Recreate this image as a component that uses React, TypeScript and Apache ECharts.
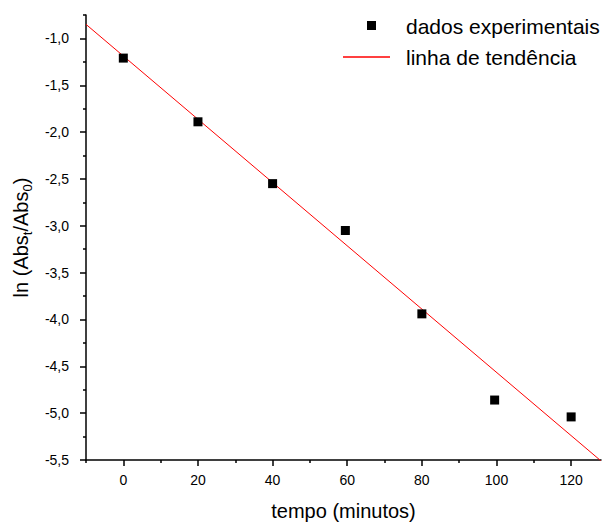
import React, { useEffect, useRef } from "react";
import * as echarts from "echarts";

const timeMinutes = [0, 20, 40, 59.5, 80, 99.5, 120];
const lnAbs = [-1.21, -1.89, -2.55, -3.05, -3.94, -4.86, -5.04];
const trendX = [-10, 128];
const trendY = [-0.85, -5.51];
const xMajorTicks = [0, 20, 40, 60, 80, 100, 120];
const xMinorTicks = [-10, 10, 30, 50, 70, 90, 110];
const yMajorTicks = [-5.5, -5.0, -4.5, -4.0, -3.5, -3.0, -2.5, -2.0, -1.5, -1.0];
const yMinorTicks = [-5.25, -4.75, -4.25, -3.75, -3.25, -2.75, -2.25, -1.75, -1.25, -0.75];
const legendLabels = ["dados experimentais", "linha de tendência"];

const FONT = "'Liberation Sans', Arial, sans-serif";

export default function App() {
  const ref = useRef<HTMLDivElement>(null);
  useEffect(() => {
    if (!ref.current) return;
    const chart = echarts.init(ref.current, null, { renderer: "svg" });
    const axisLine = { show: true, onZero: false, lineStyle: { color: "#000", width: 1.5 } };
    chart.setOption({
      animation: false,
      backgroundColor: "#fff",
      grid: { left: 86, right: 4, top: 15, bottom: 67 },
      xAxis: [
        {
          type: "value",
          min: -10,
          max: 128,
          axisLine,
          splitLine: { show: false },
          axisTick: { show: true, length: 6, customValues: xMajorTicks, lineStyle: { color: "#000", width: 1.5 } },
          axisLabel: { customValues: xMajorTicks, margin: 13, color: "#000", fontSize: 14, fontFamily: FONT },
          name: "tempo (minutos)",
          nameLocation: "middle",
          nameGap: 41,
          nameTextStyle: { fontSize: 20, fontFamily: FONT, color: "#000" },
        },
        {
          type: "value",
          position: "bottom",
          min: -10,
          max: 128,
          axisLine: { show: false, onZero: false },
          splitLine: { show: false },
          axisTick: { show: true, length: 3, customValues: xMinorTicks, lineStyle: { color: "#000", width: 1.5 } },
          axisLabel: { show: false },
        },
      ],
      yAxis: [
        {
          type: "value",
          min: -5.5,
          max: -0.75,
          axisLine,
          splitLine: { show: false },
          axisTick: { show: true, length: 6, customValues: yMajorTicks, lineStyle: { color: "#000", width: 1.5 } },
          axisLabel: {
            customValues: yMajorTicks,
            margin: 17,
            color: "#000",
            fontSize: 14,
            fontFamily: FONT,
            formatter: (v: number) => v.toFixed(1).replace(".", ","),
          },
          name: "{n|ln (Abs}{s|t}{n|/Abs}{s|0}{n|)}",
          nameLocation: "middle",
          nameGap: 52,
          nameRotate: 90,
          nameTextStyle: {
            fontFamily: FONT,
            color: "#000",
            rich: {
              n: { fontSize: 20, fontFamily: FONT, color: "#000", lineHeight: 26, verticalAlign: "middle" },
              s: { fontSize: 13, fontFamily: FONT, color: "#000", lineHeight: 26, verticalAlign: "bottom" },
            },
          },
        },
        {
          type: "value",
          position: "left",
          min: -5.5,
          max: -0.75,
          axisLine: { show: false, onZero: false },
          splitLine: { show: false },
          axisTick: { show: true, length: 3, customValues: yMinorTicks, lineStyle: { color: "#000", width: 1.5 } },
          axisLabel: { show: false },
        },
      ],
      series: [
        {
          name: legendLabels[1],
          type: "line",
          xAxisIndex: 0,
          yAxisIndex: 0,
          data: trendX.map((x, i) => [x, trendY[i]]),
          symbol: "none",
          lineStyle: { color: "#ff0000", width: 1 },
          clip: true,
          z: 2,
        },
        {
          name: legendLabels[0],
          type: "scatter",
          xAxisIndex: 0,
          yAxisIndex: 0,
          data: timeMinutes.map((x, i) => [x, lnAbs[i]]),
          symbol: "rect",
          symbolSize: 9,
          itemStyle: { color: "#000", opacity: 1 },
          z: 3,
        },
      ],
      graphic: [
        { type: "rect", shape: { x: 367, y: 21, width: 9, height: 9 }, style: { fill: "#000" } },
        {
          type: "text",
          x: 406,
          y: 26,
          style: { text: legendLabels[0], fontSize: 21, fontFamily: FONT, fill: "#000", verticalAlign: "middle" },
        },
        { type: "line", shape: { x1: 343, y1: 57, x2: 390, y2: 57 }, style: { stroke: "#ff0000", lineWidth: 1.5 } },
        {
          type: "text",
          x: 406,
          y: 57,
          style: { text: legendLabels[1], fontSize: 21, fontFamily: FONT, fill: "#000", verticalAlign: "middle" },
        },
      ],
    });
    return () => chart.dispose();
  }, []);
  return <div ref={ref} style={{ position: "absolute", left: 0, top: 0, width: 605, height: 527 }} />;
}
